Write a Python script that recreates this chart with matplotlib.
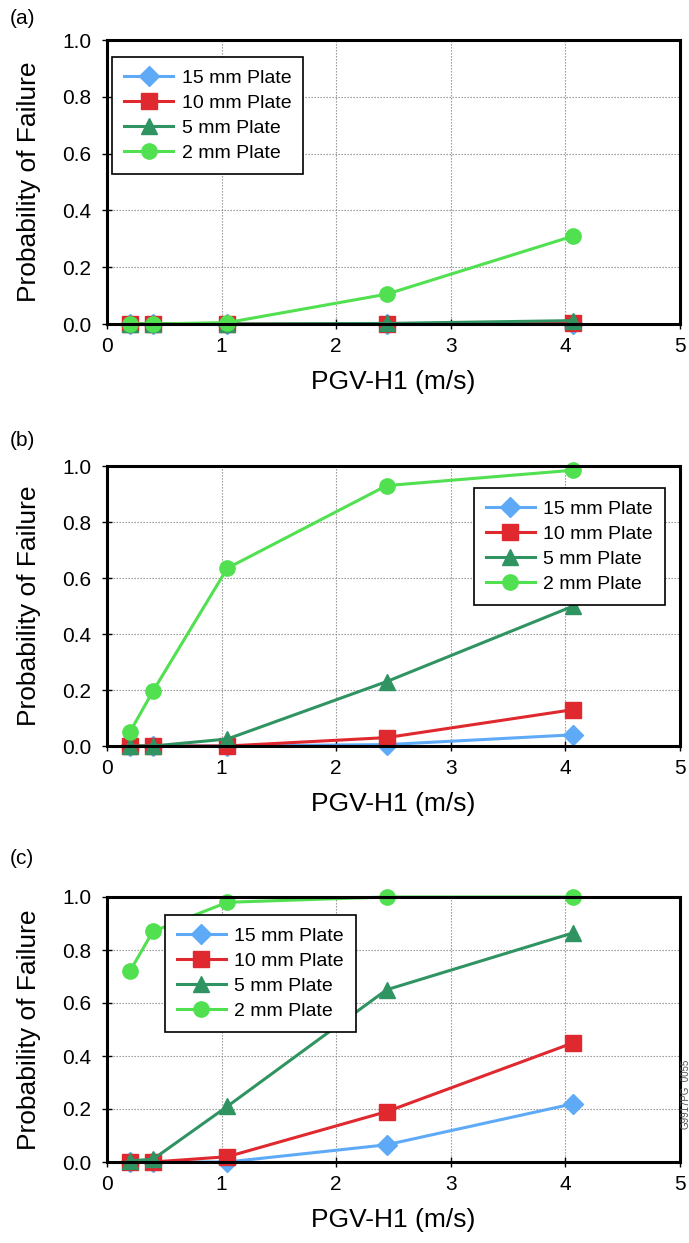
import numpy as np
import matplotlib.pyplot as plt

plt.rcParams['font.family'] = ['Liberation Sans', 'DejaVu Sans']

# PGV-H1 values (m/s)
pgv = [0.2, 0.4, 1.05, 2.44, 4.07]

series = ['15 mm Plate', '10 mm Plate', '5 mm Plate', '2 mm Plate']
colors = ['#5eaaf7', '#e0282f', '#2f9462', '#50e050']
markers = ['D', 's', '^', 'o']
msizes = [10, 11, 11, 11]

# probability of failure, panel (a)
a_15 = [0.0, 0.0, 0.0, 0.0, 0.0]
a_10 = [0.0, 0.0, 0.0, 0.0, 0.002]
a_5 = [0.0, 0.0, 0.0, 0.002, 0.012]
a_2 = [0.0, 0.0, 0.005, 0.105, 0.31]

# panel (b)
b_15 = [0.0, 0.0, 0.0, 0.005, 0.04]
b_10 = [0.0, 0.0, 0.0, 0.03, 0.13]
b_5 = [0.0, 0.0, 0.025, 0.23, 0.50]
b_2 = [0.05, 0.195, 0.635, 0.93, 0.985]

# panel (c)
c_15 = [0.0, 0.0, 0.0, 0.065, 0.22]
c_10 = [0.0, 0.0, 0.02, 0.19, 0.45]
c_5 = [0.005, 0.01, 0.21, 0.65, 0.865]
c_2 = [0.72, 0.87, 0.98, 1.0, 1.0]

H = 1243.0
panels = [
    ('(a)', [a_15, a_10, a_5, a_2], (40, 324), 18, ('upper left', (0.009, 0.94))),
    ('(b)', [b_15, b_10, b_5, b_2], (466, 746), 440, ('upper right', (0.974, 0.92))),
    ('(c)', [c_15, c_10, c_5, c_2], (897, 1162), 858, ('upper left', (0.101, 0.932))),
]

fig = plt.figure(figsize=(6.89, 12.43), dpi=100)

for label, data, (ytop, ybot), ylab, (loc, anchor) in panels:
    ax = fig.add_axes([107 / 689, 1 - ybot / H, 573 / 689, (ybot - ytop) / H])
    for vals, name, c, m, ms in zip(data, series, colors, markers, msizes):
        ax.plot(pgv, vals, color=c, marker=m, markersize=ms, linewidth=2.2,
                label=name, clip_on=False)
    ax.set_xlim(0, 5)
    ax.set_ylim(0, 1.0)
    ax.set_xticks(np.arange(0, 6, 1))
    ax.set_yticks(np.arange(0, 1.01, 0.2))
    ax.set_yticklabels(['%.1f' % v for v in np.arange(0, 1.01, 0.2)])
    ax.grid(True, linestyle=(0, (1.2, 1.5)), color='#8a8a8a', linewidth=0.8)
    for s in ax.spines.values():
        s.set_linewidth(2.2)
    ax.tick_params(direction='inout', length=7, width=1.0, labelsize=15)
    ax.tick_params(axis='y', pad=8)
    ax.tick_params(axis='x', pad=6)
    ax.set_xlabel('PGV-H1 (m/s)', fontsize=19, labelpad=10)
    ax.set_ylabel('Probability of Failure', fontsize=19, labelpad=15)
    leg = ax.legend(loc=loc, bbox_to_anchor=anchor, borderaxespad=0,
                    fontsize=14, fancybox=False, framealpha=1,
                    edgecolor='black', handlelength=2.5, handletextpad=0.45,
                    labelspacing=0.38, borderpad=0.62)
    leg.get_frame().set_linewidth(1.2)
    fig.text(10 / 689, 1 - ylab / H, label, fontsize=15, ha='left', va='center')

fig.text(0.994, 0.12, 'G9917PG_0055', rotation=90, fontsize=7,
         color='#555555', ha='center', va='center')

fig.savefig('out.png', dpi=100)
